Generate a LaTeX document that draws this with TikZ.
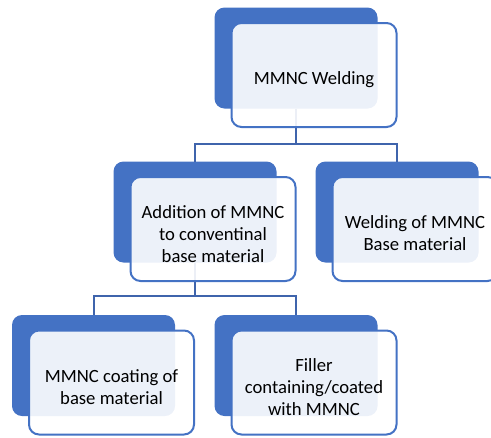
\documentclass[tikz,border=0pt]{standalone}
\usepackage{fontspec}
\setmainfont{Carlito}
\usetikzlibrary{positioning}
\definecolor{officeblue}{HTML}{4472C4}
\definecolor{linkblue}{HTML}{3F64AC}

\tikzset{
  backbox/.style={fill=officeblue, rounded corners=7.5pt, minimum width=122.25pt,
    minimum height=75.75pt, inner sep=0pt, outer sep=0pt},
  frontbox/.style={draw=officeblue, line width=1.5pt, fill=white, fill opacity=0.9,
    rounded corners=7.5pt, minimum width=123.75pt, minimum height=78pt,
    inner sep=0pt, outer sep=0pt},
  boxtext/.style={align=center, inner sep=0pt, font=\fontsize{14}{16.5}\selectfont},
  link/.style={draw=linkblue, line width=1.5pt}
}

\begin{document}
\begin{tikzpicture}[x=0.75pt, y=-0.75pt]
  \useasboundingbox (0,0) rectangle (491,437);

  % back boxes
  \node[backbox] (weldB) at (296,58) {};
  \node[backbox] (addB) at (195,212) {};
  \node[backbox] (baseB) at (397,212) {};
  \node[backbox] (coatB) at (93.5,365.5) {};
  \node[backbox] (fillB) at (296,365.5) {};

  % connectors
  \draw[link] (weldB.south) -- ++(0,35) -| (addB.north);
  \draw[link] (weldB.south) -- ++(0,35) -| (baseB.north);
  \draw[link] (addB.south) -- ++(0,33) -| (coatB.north);
  \draw[link] (addB.south) -- ++(0,33) -| (fillB.north);

  % front boxes
  \node[frontbox] (weld) at ([shift={(18,17)}]weldB.center) {};
  \node[frontbox] (add) at ([shift={(18,17)}]addB.center) {};
  \node[frontbox] (base) at ([shift={(18,17)}]baseB.center) {};
  \node[frontbox] (coat) at ([shift={(18,17)}]coatB.center) {};
  \node[frontbox] (fill) at ([shift={(18,17)}]fillB.center) {};

  % texts
  \node[boxtext] (weldT) at ([shift={(0,5)}]weld.center) {MMNC Welding};
  \node[boxtext] (addT) at ([shift={(0,5)}]add.center) {Addition of MMNC\\to conventinal\\base material};
  \node[boxtext] (baseT) at ([shift={(0,4)}]base.center) {Welding of MMNC\\Base material};
  \node[boxtext] (coatT) at ([shift={(0,5)}]coat.center) {MMNC coating of\\base material};
  \node[boxtext] (fillT) at ([shift={(0,5)}]fill.center) {Filler\\containing/coated\\with MMNC};
\end{tikzpicture}
\end{document}
